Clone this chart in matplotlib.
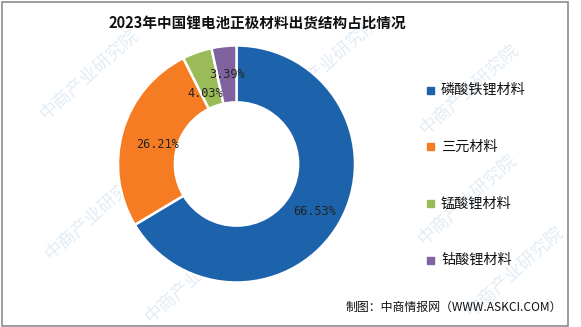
import math
import matplotlib.pyplot as plt
from matplotlib.patches import Rectangle

plt.rcParams['font.family'] = ['Noto Sans CJK SC', 'DejaVu Sans']

categories = ["磷酸铁锂材料", "三元材料", "锰酸锂材料", "钴酸锂材料"]
shares = [66.53, 26.21, 4.03, 3.39]
share_labels = ["66.53%", "26.21%", "4.03%", "3.39%"]
colors = ["#1c63ab", "#f57c22", "#9bbb59", "#7f63a1"]

title = "2023年中国锂电池正极材料出货结构占比情况"
source = "制图：中商情报网（WWW.ASKCI.COM）"

W, H = 581, 327
fig = plt.figure(figsize=(W / 100, H / 100), dpi=100)


def px(x, y):
    # pixel position (top-left origin) -> figure fraction
    return x / W, 1 - y / H


# background layer for the faint watermark
bg = fig.add_axes([0, 0, 1, 1], zorder=-5)
bg.set_xlim(0, W)
bg.set_ylim(H, 0)
bg.axis("off")
wm_spots = [(90, 75), (95, 215), (195, 278), (330, 62),
            (470, 90), (468, 200), (515, 272)]
for x, y in wm_spots:
    bg.text(x, y, "中商产业研究院", rotation=42, fontsize=13,
            color="#e2ecf5", ha="center", va="center")

# outer frame
bg.add_patch(Rectangle((1.5, 1.5), 566.5, 324, fill=False,
                       edgecolor="#8c8c8c", linewidth=1.2))

cx, cy, r = 236.5, 164, 118.5
left, bottom = px(cx - r, cy + r)
ax = fig.add_axes([left, bottom, 2 * r / W, 2 * r / H])
wedges, texts = ax.pie(shares, colors=colors, startangle=90, counterclock=False,
                       radius=1, wedgeprops=dict(width=0.48, edgecolor="white", linewidth=1.8))
ax.set_xlim(-1, 1)
ax.set_ylim(-1, 1)
ax.set_aspect("equal")
ax.axis("off")

# percentage labels in the middle of the ring
total = sum(shares)
start = 90.0
offsets = [(0.0, -0.03), (0.06, -0.05), (-0.01, -0.12), (0.0, 0.0)]
for (v, lab), (dx, dy) in zip(zip(shares, share_labels), offsets):
    ang = math.radians(start - v / total * 360 / 2)
    start -= v / total * 360
    rr = 0.76
    ax.text(rr * math.cos(ang) + dx, rr * math.sin(ang) + dy, lab,
            ha="center", va="center", fontsize=8.6, family="DejaVu Sans Mono",
            color="#222222")

fig.text(*px(257, 24), title, ha="center", va="center", fontsize=10.5,
         fontweight="bold", color="#111111")

# legend
for i, (name, c) in enumerate(zip(categories, colors)):
    y = 90 + i * 56.7
    fig.patches.append(Rectangle(px(426.5, y + 3.5), 7 / W, 7 / H,
                                 transform=fig.transFigure, color=c))
    fig.text(*px(441, y), name, ha="left", va="center", fontsize=10.2,
             color="#111111")

fig.text(*px(562, 307), source, ha="right", va="center", fontsize=8.6,
         color="#111111")

fig.savefig("out.png", dpi=100)
